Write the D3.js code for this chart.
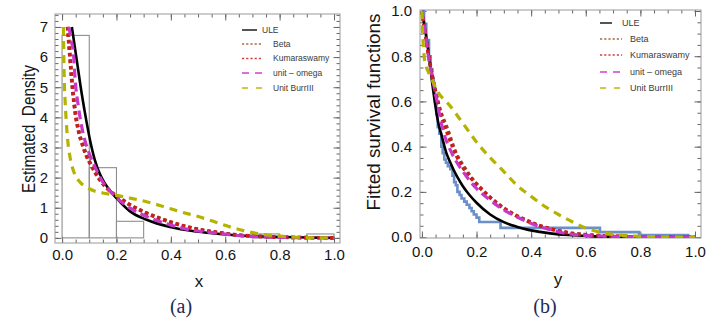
<!DOCTYPE html>
<html>
<head>
<meta charset="utf-8">
<script src="https://cdn.jsdelivr.net/npm/d3@7"></script>
<style>
  body { margin: 0; background: #fff; }
  svg { display: block; font-family: "Liberation Sans", Arial, sans-serif; }
</style>
</head>
<body>
<svg></svg>
<script>
// ---------- data ----------

// (a) histogram of the sample
var binEdges   = [0, 0.1, 0.2, 0.3, 0.4, 0.5, 0.6, 0.7, 0.8, 0.9, 1.0];
var binHeights = [6.72, 2.33, 0.55, 0, 0, 0, 0, 0.13, 0, 0.13];

// (a) fitted densities
var uleAx  = [0.036, 0.054, 0.072, 0.091, 0.105, 0.12, 0.14, 0.158, 0.189, 0.2, 0.25, 0.311, 0.397, 0.495, 0.58, 0.7, 0.8, 0.9, 1.0];
var uleAy  = [7.0, 5.9, 4.8, 3.8, 3.15, 2.6, 2.1, 1.8, 1.43, 1.32, 0.88, 0.6, 0.36, 0.21, 0.13, 0.06, 0.03, 0.015, 0.0];
var betaAx = [0.021, 0.028, 0.034, 0.042, 0.05, 0.06, 0.078, 0.09, 0.109, 0.14, 0.176, 0.213, 0.25, 0.3, 0.36, 0.42, 0.483, 0.556, 0.64, 0.75, 0.85, 1.0];
var betaAy = [7.0, 6.2, 5.5, 4.7, 4.1, 3.6, 3.05, 2.75, 2.4, 1.93, 1.56, 1.32, 1.1, 0.87, 0.65, 0.47, 0.32, 0.2, 0.1, 0.04, 0.015, 0.0];
var kumAx  = [0.02, 0.027, 0.033, 0.041, 0.049, 0.059, 0.076, 0.088, 0.107, 0.138, 0.175, 0.212, 0.25, 0.3, 0.36, 0.42, 0.483, 0.556, 0.64, 0.75, 0.85, 1.0];
var kumAy  = [7.0, 6.2, 5.5, 4.7, 4.1, 3.6, 3.05, 2.75, 2.4, 1.93, 1.56, 1.31, 1.09, 0.86, 0.64, 0.46, 0.31, 0.2, 0.1, 0.04, 0.015, 0.0];
var omgAx  = [0.025, 0.035, 0.042, 0.048, 0.06, 0.072, 0.085, 0.1, 0.115, 0.152, 0.189, 0.25, 0.311, 0.385, 0.458, 0.544, 0.58, 0.667, 0.75, 0.85, 1.0];
var omgAy  = [7.0, 6.5, 6.1, 5.25, 4.36, 3.7, 3.2, 2.8, 2.48, 1.82, 1.43, 0.99, 0.71, 0.47, 0.29, 0.18, 0.15, 0.06, 0.03, 0.01, 0.0];
var burAx  = [0.005, 0.006, 0.008, 0.011, 0.015, 0.02, 0.027, 0.036, 0.05, 0.066, 0.09, 0.115, 0.15, 0.189, 0.25, 0.311, 0.372, 0.434, 0.507, 0.556, 0.605, 0.667, 0.728, 0.79, 0.863, 0.95, 1.0];
var burAy  = [7.0, 6.25, 5.25, 4.58, 3.92, 3.3, 2.8, 2.4, 2.05, 1.85, 1.68, 1.57, 1.49, 1.43, 1.32, 1.2, 1.04, 0.87, 0.69, 0.55, 0.4, 0.24, 0.13, 0.07, 0.02, 0.0, 0.0];

// (b) empirical survival (steps) and fitted survival functions
var empX = [0, 0.008, 0.016, 0.026, 0.032, 0.038, 0.043, 0.048, 0.053, 0.058, 0.064, 0.071, 0.076, 0.082, 0.088, 0.095, 0.104, 0.112, 0.118, 0.124, 0.13, 0.138, 0.145, 0.155, 0.164, 0.174, 0.182, 0.19, 0.2, 0.21, 0.288, 0.652, 0.795, 0.975, 0.98];
var empS = [1.0, 0.943, 0.871, 0.8, 0.743, 0.7, 0.657, 0.6, 0.543, 0.486, 0.457, 0.4, 0.371, 0.343, 0.329, 0.314, 0.3, 0.271, 0.243, 0.229, 0.2, 0.186, 0.171, 0.157, 0.143, 0.129, 0.114, 0.1, 0.086, 0.067, 0.041, 0.022, 0.009, 0.0, 0.0];
var uleBx  = [0, 0.01, 0.022, 0.04, 0.059, 0.072, 0.09, 0.104, 0.115, 0.13, 0.15, 0.175, 0.2, 0.25, 0.3, 0.347, 0.39, 0.432, 0.5, 0.554, 0.63, 0.7, 0.8, 1.0];
var uleBy  = [1.0, 0.93, 0.835, 0.66, 0.51, 0.45, 0.37, 0.33, 0.3, 0.265, 0.225, 0.185, 0.152, 0.1, 0.066, 0.046, 0.032, 0.023, 0.012, 0.008, 0.003, 0.001, 0.0, 0.0];
var betaBx = [0, 0.01, 0.025, 0.049, 0.07, 0.09, 0.122, 0.16, 0.2, 0.237, 0.27, 0.3, 0.33, 0.383, 0.42, 0.469, 0.542, 0.6, 0.7, 0.8, 1.0];
var betaBy = [1.0, 0.92, 0.8, 0.65, 0.55, 0.49, 0.38, 0.3, 0.235, 0.19, 0.155, 0.127, 0.105, 0.075, 0.055, 0.038, 0.018, 0.01, 0.004, 0.001, 0.0];
var kumBx  = [0, 0.01, 0.025, 0.049, 0.07, 0.09, 0.139, 0.17, 0.212, 0.25, 0.31, 0.36, 0.42, 0.47, 0.54, 0.6, 0.7, 0.8, 1.0];
var kumBy  = [1.0, 0.92, 0.8, 0.645, 0.54, 0.47, 0.33, 0.275, 0.22, 0.175, 0.12, 0.085, 0.055, 0.036, 0.018, 0.01, 0.004, 0.001, 0.0];
var omgBx  = [0, 0.01, 0.025, 0.049, 0.078, 0.11, 0.151, 0.2, 0.249, 0.3, 0.347, 0.39, 0.432, 0.48, 0.518, 0.6, 0.7, 0.8, 1.0];
var omgBy  = [1.0, 0.92, 0.79, 0.64, 0.47, 0.37, 0.289, 0.215, 0.164, 0.12, 0.09, 0.066, 0.046, 0.03, 0.018, 0.008, 0.003, 0.001, 0.0];
var burBx  = [0, 0.002, 0.005, 0.01, 0.02, 0.034, 0.059, 0.08, 0.1, 0.14, 0.17, 0.2, 0.255, 0.3, 0.347, 0.4, 0.457, 0.5, 0.55, 0.6, 0.664, 0.725, 0.81, 0.9, 1.0];
var burBy  = [1.0, 0.92, 0.85, 0.78, 0.74, 0.705, 0.64, 0.61, 0.585, 0.52, 0.47, 0.42, 0.345, 0.29, 0.23, 0.18, 0.13, 0.1, 0.068, 0.04, 0.018, 0.009, 0.003, 0.001, 0.0];

// legend labels and tick values
var legendA = ["ULE", "Beta", "Kumaraswamy", "unit \u2013 omega", "Unit BurrIII"];
var legendB = ["ULE", "Beta", "Kumaraswamy", "unit \u2013 omega", "Unit BurrIII"];
var xTicks  = [0, 0.2, 0.4, 0.6, 0.8, 1.0];
var yTicksA = [0, 1, 2, 3, 4, 5, 6, 7];
var yTicksB = [0, 0.2, 0.4, 0.6, 0.8, 1.0];

// ---------- styles for each series ----------
var styles = [
  { color: "#000000", width: 2.6, dash: null,    lcolor: "#555", lwidth: 2,   ldash: null },
  { color: "#8b4a2b", width: 3.6, dash: "3.5,3", lcolor: "#a86a45", lwidth: 1.3, ldash: "2.2,2" },
  { color: "#c81e1e", width: 3.6, dash: "3.5,3", lcolor: "#d84040", lwidth: 1.5, ldash: "2.2,2" },
  { color: "#c837c8", width: 3.2, dash: "9,5",   lcolor: "#cc44cc", lwidth: 1.6, ldash: "7,6" },
  { color: "#b4b400", width: 3.2, dash: "8,6",   lcolor: "#bcbc00", lwidth: 1.6, ldash: "6,8" }
];

var svg = d3.select("svg").attr("width", 724).attr("height", 321);

// scales
var xa = d3.scaleLinear().domain([-0.026, 1.022]).range([55, 340]);
var ya = d3.scaleLinear().domain([-0.17, 7.43]).range([243, 14]);
var xb = d3.scaleLinear().domain([-0.007, 1.022]).range([420, 701]);
var yb = d3.scaleLinear().domain([-0.004, 1.0044]).range([238, 10]);

function inDomain(s) {
  var d = s.domain();
  return function(v) { return v >= d[0] - 1e-9 && v <= d[1] + 1e-9; };
}

// frame with Mathematica style inner ticks on all four sides
function frame(g, x, y, yMajor, yMinorStep, yFmt, xPad, yPad) {
  var xr = x.range(), yr = y.range();
  var xMinor = d3.range(-0.05, 1.051, 0.05).filter(inDomain(x));
  var yMinor = d3.range(y.domain()[0] - yMinorStep, y.domain()[1] + yMinorStep, yMinorStep)
    .map(function(v) { return Math.round(v / yMinorStep) * yMinorStep; })
    .filter(inDomain(y));

  function tidy(sel) {
    sel.select(".domain").remove();
    sel.attr("font-family", "'Liberation Sans', Arial, sans-serif").attr("font-size", 15);
    sel.selectAll("line").attr("stroke", "#666");
    sel.selectAll("text").attr("fill", "#141414");
  }

  // minor ticks
  g.append("g").attr("transform", "translate(0," + yr[0] + ")")
    .call(d3.axisBottom(x).tickValues(xMinor).tickSize(-3.5).tickFormat("")).call(tidy);
  g.append("g").attr("transform", "translate(0," + yr[1] + ")")
    .call(d3.axisTop(x).tickValues(xMinor).tickSize(-3.5).tickFormat("")).call(tidy);
  g.append("g").attr("transform", "translate(" + xr[0] + ",0)")
    .call(d3.axisLeft(y).tickValues(yMinor).tickSize(-3.5).tickFormat("")).call(tidy);
  g.append("g").attr("transform", "translate(" + xr[1] + ",0)")
    .call(d3.axisRight(y).tickValues(yMinor).tickSize(-3.5).tickFormat("")).call(tidy);

  // major ticks + labels
  g.append("g").attr("transform", "translate(0," + yr[0] + ")")
    .call(d3.axisBottom(x).tickValues(xTicks).tickSize(-6.5).tickPadding(xPad).tickFormat(d3.format(".1f"))).call(tidy);
  g.append("g").attr("transform", "translate(0," + yr[1] + ")")
    .call(d3.axisTop(x).tickValues(xTicks).tickSize(-6.5).tickFormat("")).call(tidy);
  g.append("g").attr("transform", "translate(" + xr[0] + ",0)")
    .call(d3.axisLeft(y).tickValues(yMajor).tickSize(-6.5).tickPadding(yPad).tickFormat(yFmt)).call(tidy);
  g.append("g").attr("transform", "translate(" + xr[1] + ",0)")
    .call(d3.axisRight(y).tickValues(yMajor).tickSize(-6.5).tickFormat("")).call(tidy);

  g.append("rect")
    .attr("x", xr[0]).attr("y", yr[1])
    .attr("width", xr[1] - xr[0]).attr("height", yr[0] - yr[1])
    .attr("fill", "none").attr("stroke", "#9a9a9a").attr("stroke-width", 1);
}

function addClip(id, x, y) {
  svg.append("defs").append("clipPath").attr("id", id)
    .append("rect")
    .attr("x", x.range()[0]).attr("y", y.range()[1])
    .attr("width", x.range()[1] - x.range()[0]).attr("height", y.range()[0] - y.range()[1]);
}

function curve(g, x, y, xs, ys, st) {
  var line = d3.line()
    .x(function(d) { return x(d[0]); })
    .y(function(d) { return y(d[1]); })
    .curve(d3.curveMonotoneX);
  g.append("path")
    .datum(d3.zip(xs, ys))
    .attr("d", line)
    .attr("fill", "none")
    .attr("stroke", st.color)
    .attr("stroke-width", st.width)
    .attr("stroke-dasharray", st.dash)
    .attr("stroke-linejoin", "round");
}

function legend(g, x0, y0s, labels, ulen, len, tx, tx0, fs) {
  labels.forEach(function(lab, i) {
    var st = styles[i];
    var l = i === 0 ? ulen : len;
    g.append("line")
      .attr("x1", x0).attr("x2", x0 + l)
      .attr("y1", y0s[i]).attr("y2", y0s[i])
      .attr("stroke", st.lcolor).attr("stroke-width", st.lwidth)
      .attr("stroke-dasharray", st.ldash);
    g.append("text")
      .attr("x", i === 0 ? tx0 : tx).attr("y", y0s[i]).attr("dy", "0.35em")
      .attr("font-size", fs).attr("fill", "#3a3a3a")
      .text(lab);
  });
}

// ---------- panel (a) ----------
addClip("clipA", xa, ya);
var ga = svg.append("g");
frame(ga, xa, ya, yTicksA, 0.2, d3.format("d"), 6, 7);

var pa = ga.append("g").attr("clip-path", "url(#clipA)");
pa.selectAll("rect.bar")
  .data(binHeights.map(function(h, i) { return { x0: binEdges[i], x1: binEdges[i + 1], h: h }; })
    .filter(function(d) { return d.h > 0; }))
  .enter().append("rect")
  .attr("class", "bar")
  .attr("x", function(d) { return xa(d.x0); })
  .attr("width", function(d) { return xa(d.x1) - xa(d.x0); })
  .attr("y", function(d) { return ya(d.h); })
  .attr("height", function(d) { return ya(0) - ya(d.h); })
  .attr("fill", "none")
  .attr("stroke", "#8e8e8e")
  .attr("stroke-width", 1.1);

curve(pa, xa, ya, uleAx, uleAy, styles[0]);
curve(pa, xa, ya, betaAx, betaAy, styles[1]);
curve(pa, xa, ya, kumAx, kumAy, styles[2]);
curve(pa, xa, ya, omgAx, omgAy, styles[3]);
curve(pa, xa, ya, burAx, burAy, styles[4]);

legend(ga, 242, [30, 44, 58.5, 73, 88], legendA, 15, 20, 273, 262, 8.5);

ga.append("text")
  .attr("transform", "translate(35,129) rotate(-90)")
  .attr("text-anchor", "middle").attr("font-size", 17.5).attr("fill", "#141414")
  .attr("textLength", 128).attr("lengthAdjust", "spacingAndGlyphs")
  .style("white-space", "pre")
  .text("Estimated  Density");
ga.append("text")
  .attr("x", 199).attr("y", 287).attr("text-anchor", "middle")
  .attr("font-size", 17).attr("fill", "#141414").text("x");
ga.append("text")
  .attr("x", 181).attr("y", 313).attr("text-anchor", "middle")
  .attr("font-family", "'Liberation Serif', 'Times New Roman', serif")
  .attr("font-size", 20).attr("fill", "#1d2b57").text("(a)");

// ---------- panel (b) ----------
addClip("clipB", xb, yb);
var gb = svg.append("g");
frame(gb, xb, yb, yTicksB, 0.05, d3.format(".1f"), 8, 8);

var pb = gb.append("g").attr("clip-path", "url(#clipB)");
pb.append("path")
  .datum(d3.zip(empX, empS))
  .attr("d", d3.line()
    .x(function(d) { return xb(d[0]); })
    .y(function(d) { return yb(d[1]); })
    .curve(d3.curveStepAfter))
  .attr("fill", "none")
  .attr("stroke", "#6b8fc9")
  .attr("stroke-width", 2.6);

curve(pb, xb, yb, uleBx, uleBy, styles[0]);
curve(pb, xb, yb, betaBx, betaBy, styles[1]);
curve(pb, xb, yb, kumBx, kumBy, styles[2]);
curve(pb, xb, yb, omgBx, omgBy, styles[3]);
curve(pb, xb, yb, burBx, burBy, styles[4]);

legend(gb, 600, [23, 39, 55, 72, 88], legendB, 12, 22, 630, 622, 9);

gb.append("text")
  .attr("transform", "translate(380,112) rotate(-90)")
  .attr("text-anchor", "middle").attr("font-size", 18).attr("fill", "#141414")
  .attr("textLength", 197).attr("lengthAdjust", "spacingAndGlyphs")
  .text("Fitted survival functions");
gb.append("text")
  .attr("x", 558).attr("y", 285).attr("text-anchor", "middle")
  .attr("font-size", 17).attr("fill", "#141414").text("y");
gb.append("text")
  .attr("x", 545).attr("y", 313).attr("text-anchor", "middle")
  .attr("font-family", "'Liberation Serif', 'Times New Roman', serif")
  .attr("font-size", 20).attr("fill", "#1d2b57").text("(b)");
</script>
</body>
</html>
